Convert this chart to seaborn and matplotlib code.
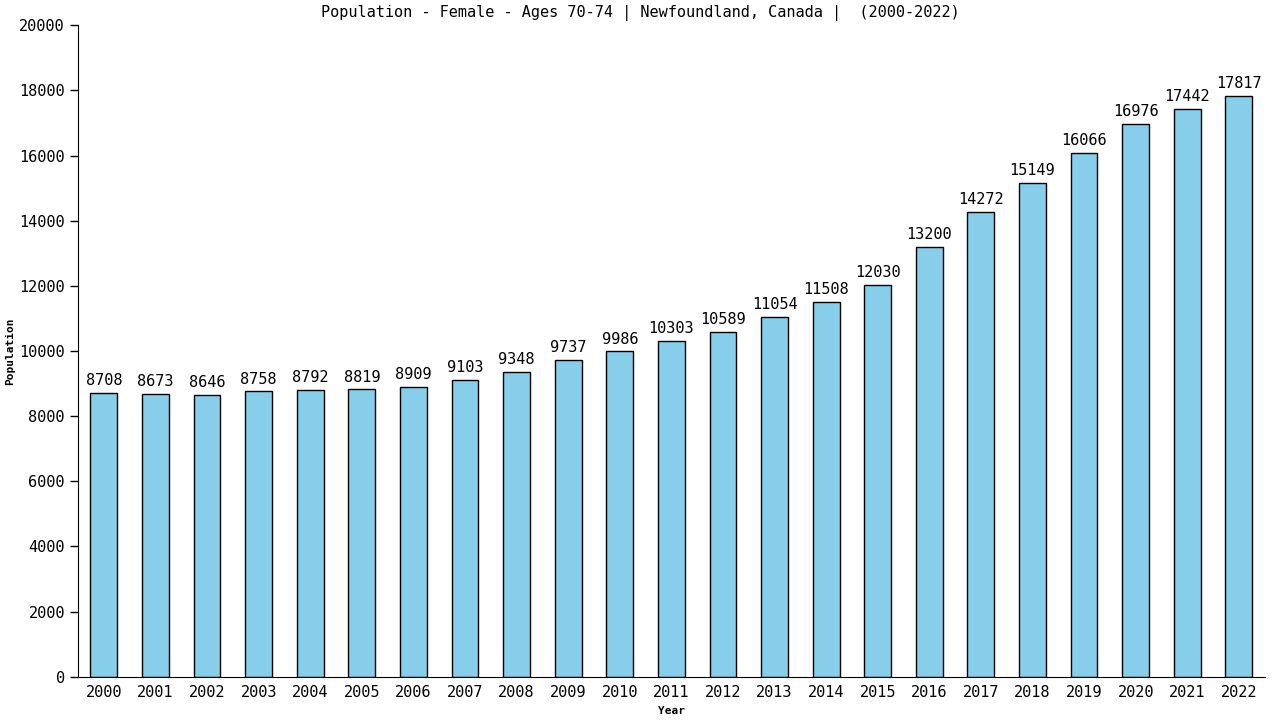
import matplotlib
matplotlib.use("Agg")
import matplotlib.pyplot as plt
import seaborn as sns
import pandas as pd

years = [str(y) for y in range(2000, 2023)]
population = [8708, 8673, 8646, 8758, 8792, 8819, 8909, 9103, 9348, 9737,
              9986, 10303, 10589, 11054, 11508, 12030, 13200, 14272, 15149,
              16066, 16976, 17442, 17817]

df = pd.DataFrame({"Year": years, "Population": population})

sns.set_style("white")
plt.rcParams["font.family"] = ["DejaVu Sans Mono", "DejaVu Sans"]
plt.rcParams["text.color"] = "black"
plt.rcParams["axes.labelcolor"] = "black"
plt.rcParams["xtick.color"] = "black"
plt.rcParams["ytick.color"] = "black"

fig = plt.figure(figsize=(12.8, 7.2), dpi=100)
ax = fig.add_axes([0.061, 0.06, 0.927, 0.905])

sns.barplot(data=df, x="Year", y="Population", color="#87ceeb",
            edgecolor="black", linewidth=1, width=0.52, saturation=1, ax=ax)

for i, v in enumerate(population):
    ax.text(i, v + 150, str(v), ha="center", va="bottom", fontsize=11, color="black")

ax.set_xlim(-0.5, 22.5)
ax.set_ylim(0, 20000)
ax.set_yticks(range(0, 20001, 2000))
ax.tick_params(axis="y", direction="out", length=6, width=1, labelsize=11, left=True)
ax.tick_params(axis="x", length=0, labelsize=11, pad=6)
sns.despine(ax=ax, top=True, right=True)
ax.spines["left"].set_color("black")
ax.spines["bottom"].set_color("black")

ax.set_xlabel("Year", fontsize=8, fontweight="bold")
ax.xaxis.set_label_coords(0.5, -0.045)
ax.set_ylabel("Population", fontsize=8, fontweight="bold")
ax.yaxis.set_label_coords(-0.053, 0.5)
fig.text(0.5, 0.982, "Population - Female - Ages 70-74 | Newfoundland, Canada |  (2000-2022)",
         ha="center", va="center", fontsize=11, color="black")

fig.savefig("out.png", dpi=100)
